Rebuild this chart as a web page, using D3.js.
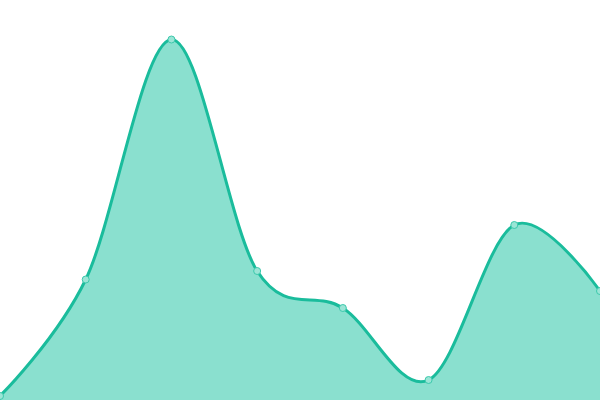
<!DOCTYPE html>
<html><head><meta charset="utf-8">
<script src="https://cdn.jsdelivr.net/npm/d3@7"></script>
<style>html,body{margin:0;padding:0;background:#fff;overflow:hidden}</style>
</head><body>
<svg id="chart" width="600" height="400"></svg>
<script>
const categories = ["A","B","C","D","E","F","G","H"];
const values = [4, 120.5, 360.5, 129, 92, 20, 175, 109];

const W = 600, H = 400;
const svg = d3.select("#chart");
const x = d3.scalePoint().domain(categories).range([0, W]);
const y = d3.scaleLinear().domain([0, 400]).range([H, 0]);
const data = categories.map((c, i) => ({c, v: values[i]}));
const curve = d3.curveCatmullRom.alpha(0);

svg.append("path").datum(data)
  .attr("fill", "#8ae0cf")
  .attr("d", d3.area().x(d => x(d.c)).y0(H).y1(d => y(d.v)).curve(curve));
svg.append("path").datum(data)
  .attr("fill", "none").attr("stroke", "#1abc9c").attr("stroke-width", 3)
  .attr("d", d3.line().x(d => x(d.c)).y(d => y(d.v)).curve(curve));
svg.selectAll("circle").data(data).join("circle")
  .attr("cx", d => x(d.c)).attr("cy", d => y(d.v)).attr("r", 3.5)
  .attr("fill", "#9be5d6").attr("stroke", "#3cc9ac").attr("stroke-width", 1);
</script>
</body></html>
